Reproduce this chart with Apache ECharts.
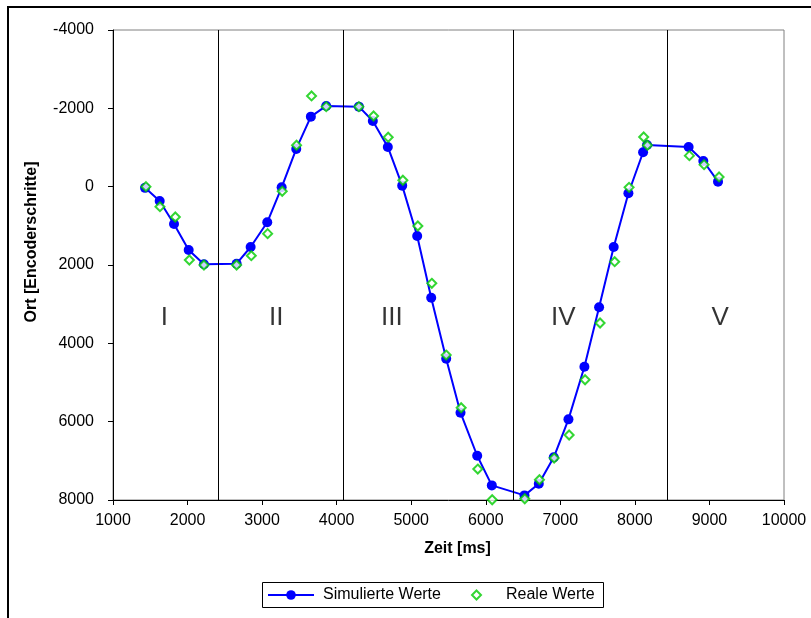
<!DOCTYPE html>
<html>
<head>
<meta charset="utf-8">
<script src="https://cdn.jsdelivr.net/npm/echarts@6/dist/echarts.min.js"></script>
<style>html,body{margin:0;padding:0;background:#fff}#c{width:811px;height:618px}</style>
</head>
<body>
<div id="c"></div>
<script>
// Simulated values (time ms, position encoder steps)
const simX = [1430,1626,1818,2015,2220,2658,2846,3069,3262,3458,3654,3860,4298,4485,4686,4879,5080,5268,5469,5661,5885,6081,6519,6711,6912,7109,7323,7520,7716,7913,8110,8163,8721,8918,9115];
const simY = [30,365,953,1617,1983,1966,1540,910,17,-963,-1788,-2061,-2043,-1678,-1014,-26,1259,2835,4393,5772,6870,7627,7882,7585,6911,5941,4597,3080,1540,169,-879,-1065,-1014,-656,-128];
// Real values
const realX = [1442,1630,1836,2024,2220,2658,2855,3074,3270,3462,3663,3860,4298,4495,4691,4888,5089,5276,5469,5670,5893,6086,6523,6720,6917,7118,7332,7533,7729,7922,8118,8168,8731,8928,9129];
const realY = [0,511,774,1872,2000,2000,1762,1200,118,-1057,-2316,-2043,-2043,-1805,-1261,-163,1004,2468,4299,5644,7210,7994,7968,7483,6929,6341,4929,3481,1915,17,-1269,-1057,-792,-562,-248];
// Phase boundaries and labels
const boundaries = [2413,4089,6375,8440];
const phaseNames = ['I','II','III','IV','V'];
const phaseX = [1690,3190,4740,7040,9145];
const phaseY = 3350;
const seriesNames = ['Simulierte Werte','Reale Werte'];
const xTitle = 'Zeit [ms]';
const yTitle = 'Ort [Encoderschritte]';

const FONT = 'Liberation Sans, Arial, sans-serif';
const chart = echarts.init(document.getElementById('c'), null, {renderer:'canvas'});
chart.setOption({
  animation: false,
  backgroundColor: '#fff',
  textStyle: {fontFamily: FONT},
  graphic: [
    {type: 'rect', shape: {x: 8, y: 7, width: 900, height: 700},
     style: {fill: 'none', stroke: '#000', lineWidth: 2}, silent: true},
    {type: 'rect', shape: {x: 262.5, y: 582.5, width: 341, height: 25},
     style: {fill: '#fff', stroke: '#000', lineWidth: 1}, silent: true, z: -1}
  ],
  grid: {left: 113, right: 27, top: 30, bottom: 118, show: true, borderColor: '#808080', borderWidth: 1, backgroundColor: '#fff'},
  legend: [{
    data: [seriesNames[0]], left: 267, top: 587, padding: 0,
    itemWidth: 46, itemHeight: 12,
    textStyle: {fontFamily: FONT, fontSize: 16, color: '#000', padding: [0, 0, 0, 4]}
  }, {
    data: [{name: seriesNames[1], icon: 'emptyDiamond'}], left: 471, top: 587, padding: 0,
    itemWidth: 9, itemHeight: 9,
    textStyle: {fontFamily: FONT, fontSize: 16, color: '#000', padding: [0, 0, 0, 20]}
  }],
  xAxis: {
    type: 'value', min: 1000, max: 10000, interval: 1000,
    name: xTitle, nameLocation: 'middle', nameGap: 41,
    nameTextStyle: {fontFamily: FONT, fontSize: 16, fontWeight: 'bold', color: '#000', padding: [0, 0, 0, 18]},
    axisLine: {onZero: false, lineStyle: {color: '#000', width: 1}},
    axisTick: {show: true, length: 5, lineStyle: {color: '#000'}},
    axisLabel: {fontFamily: FONT, fontSize: 16, color: '#000', margin: 13, formatter: v => String(v)},
    splitLine: {show: false}
  },
  yAxis: {
    type: 'value', inverse: true, min: -4000, max: 8000, interval: 2000,
    name: yTitle, nameLocation: 'middle', nameGap: 73, nameRotate: 90,
    nameTextStyle: {fontFamily: FONT, fontSize: 16, fontWeight: 'bold', color: '#000', padding: [0, 0, 0, 46]},
    axisLine: {onZero: false, lineStyle: {color: '#000', width: 1}},
    axisTick: {show: true, length: 5, lineStyle: {color: '#000'}},
    axisLabel: {fontFamily: FONT, fontSize: 16, color: '#000', margin: 19, formatter: v => String(v)},
    splitLine: {show: false}
  },
  series: [
    {
      name: '_bounds', type: 'line', data: [], z: 1, silent: true,
      markLine: {
        silent: true, symbol: 'none', label: {show: false},
        lineStyle: {color: '#000', width: 1, type: 'solid'},
        data: boundaries.map(b => ({xAxis: b}))
      }
    },
    {
      name: '_phases', type: 'scatter', symbolSize: 0, z: 1, silent: true,
      data: phaseNames.map((n, i) => ({name: n, value: [phaseX[i], phaseY]})),
      label: {show: true, position: 'inside', formatter: '{b}', fontFamily: FONT, fontSize: 26, color: '#000'}
    },
    {
      name: seriesNames[0], type: 'line', z: 3,
      data: simX.map((x, i) => [x, simY[i]]),
      symbol: 'circle', symbolSize: 10, showAllSymbol: true,
      lineStyle: {color: '#0000FF', width: 2},
      itemStyle: {color: '#0000FF'}
    },
    {
      name: seriesNames[1], type: 'scatter', z: 4,
      data: realX.map((x, i) => [x, realY[i]]),
      symbol: 'emptyDiamond', symbolSize: 9,
      itemStyle: {color: '#00CC00', borderColor: '#00CC00', borderWidth: 1.5}
    }
  ]
});
</script>
</body>
</html>
